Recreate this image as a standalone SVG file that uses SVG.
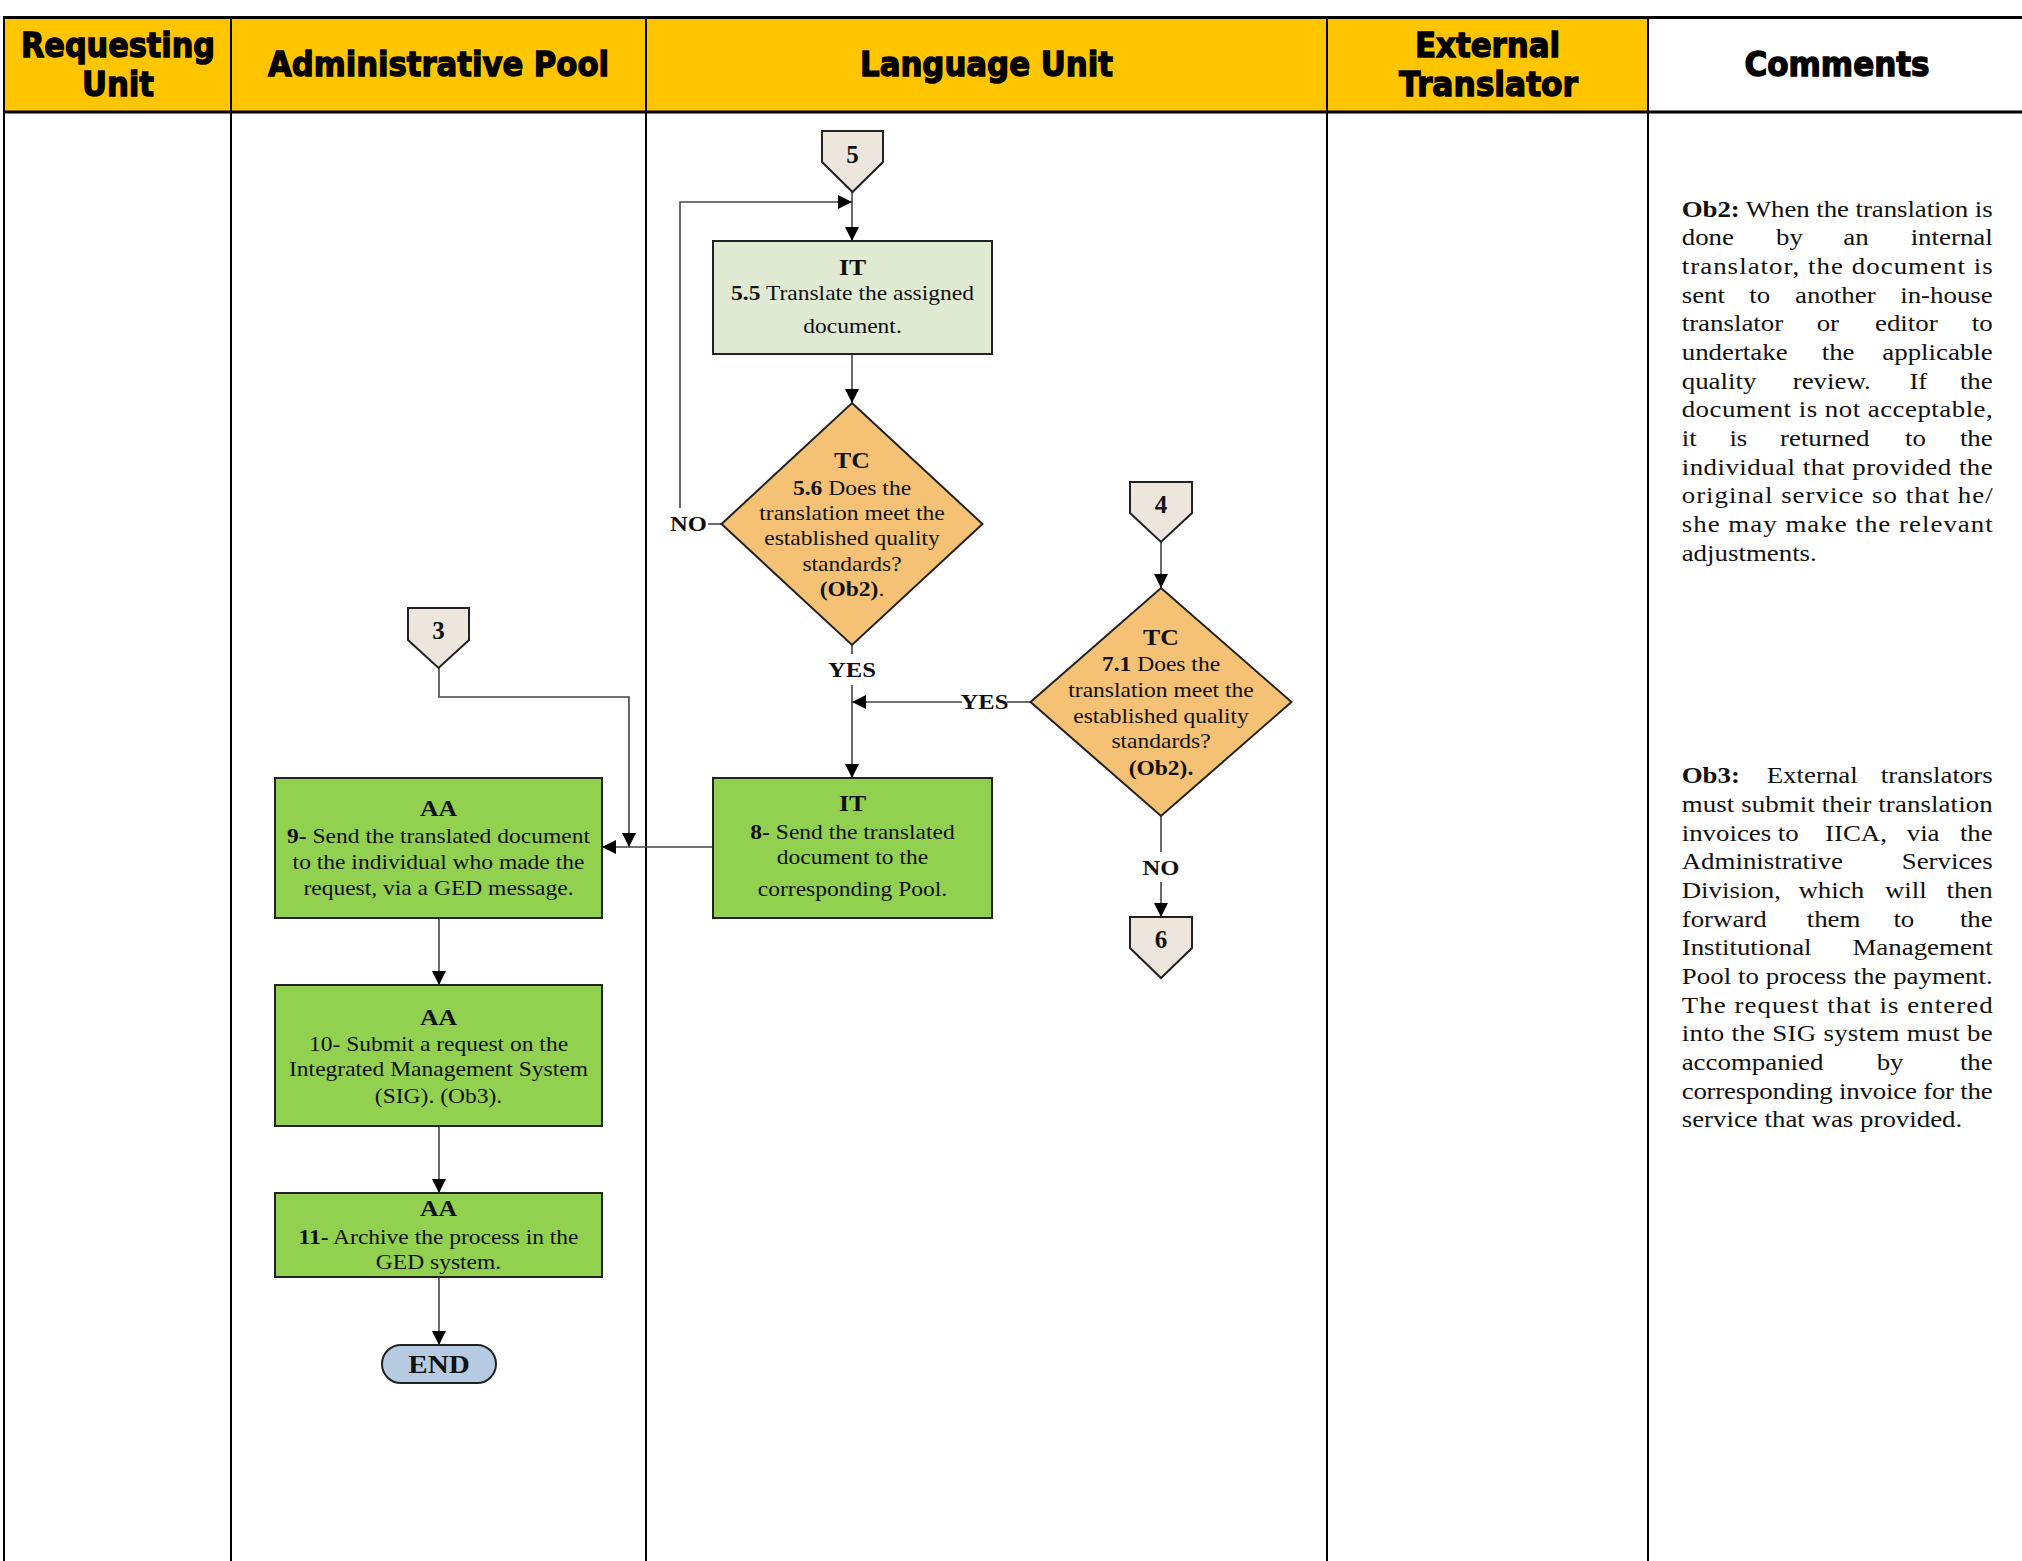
<svg xmlns="http://www.w3.org/2000/svg" width="2022" height="1561" viewBox="0 0 2022 1561">
  <style>
    .hdr { font-family: "DejaVu Sans", "Liberation Sans", sans-serif; font-weight: bold; font-size: 34px; text-anchor: middle; fill: #000; stroke: #000; stroke-width: 1.4; }
    .grid { stroke: #000; stroke-width: 2; fill: none; }
    .rule { stroke: #000; stroke-width: 3; }
    .t { font-family: "Liberation Serif", "Times New Roman", serif; font-size: 21px; text-anchor: middle; fill: #111; }
    .ttl { font-size: 23px; font-weight: bold; }
    .b { font-weight: bold; }
    .lbl { font-family: "Liberation Serif", "Times New Roman", serif; font-size: 22px; font-weight: bold; fill: #111; }
    .num { font-family: "Liberation Serif", "Times New Roman", serif; font-size: 25px; font-weight: bold; text-anchor: middle; fill: #111; }
    .cmt { font-family: "Liberation Serif", "Times New Roman", serif; font-size: 24px; fill: #111; }
    .off { fill: #ECE6DC; stroke: #222; stroke-width: 2; }
    .pale { fill: #E0EAD3; stroke: #222; stroke-width: 2; }
    .act { fill: #92D050; stroke: #222; stroke-width: 2; }
    .dec { fill: #F4C175; stroke: #222; stroke-width: 2; }
    .term { fill: #B6CBE2; stroke: #222; stroke-width: 2; }
    .wire { stroke: #444; stroke-width: 1.6; fill: none; }
    .arr { marker-end: url(#ah); }
  </style>
  <defs>
    <marker id="ah" markerUnits="userSpaceOnUse" markerWidth="15" markerHeight="15" refX="14" refY="7" orient="auto">
      <path d="M0,0 L14,7 L0,14 Z" fill="#000"/>
    </marker>
  </defs>

  <rect width="2022" height="1561" fill="#fff"/>

  <!-- swimlane header -->
  <g id="lanes">
    <rect x="4" y="17" width="1644" height="95" fill="#FFC600"/>
    <line class="rule" x1="3" y1="17.5" x2="2022" y2="17.5"/>
    <line class="rule" x1="3" y1="112" x2="2022" y2="112"/>
    <line class="grid" x1="4" y1="16" x2="4" y2="1561"/>
    <line class="grid" x1="231" y1="17" x2="231" y2="1561"/>
    <line class="grid" x1="646" y1="17" x2="646" y2="1561"/>
    <line class="grid" x1="1327" y1="17" x2="1327" y2="1561"/>
    <line class="grid" x1="1648" y1="17" x2="1648" y2="1561"/>
    <text class="hdr" x="118" y="57" textLength="194" lengthAdjust="spacingAndGlyphs">Requesting</text>
    <text class="hdr" x="118" y="96" textLength="72" lengthAdjust="spacingAndGlyphs">Unit</text>
    <text class="hdr" x="438.5" y="76" textLength="341" lengthAdjust="spacingAndGlyphs">Administrative Pool</text>
    <text class="hdr" x="986.5" y="76" textLength="253" lengthAdjust="spacingAndGlyphs">Language Unit</text>
    <text class="hdr" x="1487.5" y="57" textLength="145" lengthAdjust="spacingAndGlyphs">External</text>
    <text class="hdr" x="1488.5" y="96" textLength="179" lengthAdjust="spacingAndGlyphs">Translator</text>
    <text class="hdr" x="1837" y="76" textLength="185" lengthAdjust="spacingAndGlyphs">Comments</text>
  </g>

  <!-- connectors -->
  <g id="connectors">
    <path class="wire arr" d="M852,192 V241"/>
    <path class="wire arr" d="M852,354 V403"/>
    <path class="wire" d="M722,524 H708"/>
    <path class="wire arr" d="M680,508 V202 H852"/>
    <path class="wire" d="M852,645 V654"/>
    <path class="wire arr" d="M852,685 V778"/>
    <path class="wire arr" d="M1161,542 V588"/>
    <path class="wire" d="M1030,702 H1007"/>
    <path class="wire arr" d="M962,702 H852"/>
    <path class="wire" d="M1161,816 V852"/>
    <path class="wire arr" d="M1161,882 V917"/>
    <path class="wire arr" d="M713,847 H602"/>
    <path class="wire arr" d="M439,668 V697 H629 V847"/>
    <path class="wire arr" d="M439,918 V985"/>
    <path class="wire arr" d="M439,1126 V1193"/>
    <path class="wire arr" d="M439,1277 V1345"/>
    <text class="lbl" x="707" y="531.5" text-anchor="end" transform="translate(707 0) scale(1.12 1) translate(-707 0)">NO</text>
    <g transform="translate(852 0) scale(1.12 1)"><text class="lbl" x="0" y="677" text-anchor="middle">YES</text></g>
    <g transform="translate(984.5 0) scale(1.12 1)"><text class="lbl" x="0" y="709" text-anchor="middle">YES</text></g>
    <g transform="translate(1161 0) scale(1.12 1)"><text class="lbl" x="0" y="875" text-anchor="middle">NO</text></g>
  </g>

  <!-- off-page references -->
  <g id="ref5">
    <path class="off" d="M822,131 H883 V162 L852.5,192 L822,162 Z"/>
    <text class="num" x="852.5" y="162.5">5</text>
  </g>
  <g id="ref4">
    <path class="off" d="M1130,482 H1192 V513 L1161,542 L1130,513 Z"/>
    <text class="num" x="1161" y="512.5">4</text>
  </g>
  <g id="ref3">
    <path class="off" d="M408,608 H469 V640 L438.5,668 L408,640 Z"/>
    <text class="num" x="438.5" y="638.5">3</text>
  </g>
  <g id="ref6">
    <path class="off" d="M1130,917 H1192 V948 L1161,978 L1130,948 Z"/>
    <text class="num" x="1161" y="948">6</text>
  </g>

  <!-- 5.5 -->
  <g id="step5_5">
    <rect class="pale" x="713" y="241" width="279" height="113"/>
    <g class="t" transform="translate(852.5 0) scale(1.12 1)">
      <text class="ttl" x="0" y="275.5">IT</text>
      <text x="0" y="300"><tspan class="b">5.5</tspan> Translate the assigned</text>
      <text x="0" y="333.5">document.</text>
    </g>
  </g>

  <!-- 5.6 -->
  <g id="decision5_6">
    <path class="dec" d="M852,403 L982.5,524 L852,645 L721.5,524 Z"/>
    <g class="t" transform="translate(852 0) scale(1.12 1)">
      <text class="ttl" x="0" y="468">TC</text>
      <text x="0" y="495"><tspan class="b">5.6</tspan> Does the</text>
      <text x="0" y="520">translation meet the</text>
      <text x="0" y="545.5">established quality</text>
      <text x="0" y="571">standards?</text>
      <text x="0" y="596.5"><tspan class="b">(Ob2)</tspan>.</text>
    </g>
  </g>

  <!-- 7.1 -->
  <g id="decision7_1">
    <path class="dec" d="M1161,588 L1291.5,702 L1161,816 L1030.5,702 Z"/>
    <g class="t" transform="translate(1161 0) scale(1.12 1)">
      <text class="ttl" x="0" y="645">TC</text>
      <text x="0" y="671.5"><tspan class="b">7.1</tspan> Does the</text>
      <text x="0" y="697.5">translation meet the</text>
      <text x="0" y="723">established quality</text>
      <text x="0" y="748.5">standards?</text>
      <text class="b" x="0" y="775">(Ob2).</text>
    </g>
  </g>

  <!-- 8 -->
  <g id="step8">
    <rect class="act" x="713" y="778" width="279" height="140"/>
    <g class="t" transform="translate(852.5 0) scale(1.12 1)">
      <text class="ttl" x="0" y="811.5">IT</text>
      <text x="0" y="839"><tspan class="b">8-</tspan> Send the translated</text>
      <text x="0" y="864">document to the</text>
      <text x="0" y="896.5">corresponding Pool.</text>
    </g>
  </g>

  <!-- 9 -->
  <g id="step9">
    <rect class="act" x="275" y="778" width="327" height="140"/>
    <g class="t" transform="translate(438.5 0) scale(1.12 1)">
      <text class="ttl" x="0" y="816.5">AA</text>
      <text x="0" y="843"><tspan class="b">9-</tspan> Send the translated document</text>
      <text x="0" y="869">to the individual who made the</text>
      <text x="0" y="895">request, via a GED message.</text>
    </g>
  </g>

  <!-- 10 -->
  <g id="step10">
    <rect class="act" x="275" y="985" width="327" height="141"/>
    <g class="t" transform="translate(438.5 0) scale(1.12 1)">
      <text class="ttl" x="0" y="1025">AA</text>
      <text x="0" y="1051">10- Submit a request on the</text>
      <text x="0" y="1076.5">Integrated Management System</text>
      <text x="0" y="1103">(SIG). (Ob3).</text>
    </g>
  </g>

  <!-- 11 -->
  <g id="step11">
    <rect class="act" x="275" y="1193" width="327" height="84"/>
    <g class="t" transform="translate(438.5 0) scale(1.12 1)">
      <text class="ttl" x="0" y="1216.5">AA</text>
      <text x="0" y="1244"><tspan class="b">11-</tspan> Archive the process in the</text>
      <text x="0" y="1269">GED system.</text>
    </g>
  </g>

  <!-- end -->
  <g id="end">
    <rect class="term" x="382" y="1345" width="114" height="38" rx="19"/>
    <g transform="translate(439 0) scale(1.12 1)">
      <text class="lbl" x="0" y="1373" text-anchor="middle" style="font-size:26px">END</text>
    </g>
  </g>

  <!-- comment Ob2: full lines are stretched to the column width, loose lines place each word -->
  <g id="note_ob2" class="cmt" transform="translate(1681.7 0) scale(1.12 1)">
    <text x="0" y="216.7" textLength="277.7" lengthAdjust="spacing"><tspan class="b">Ob2:</tspan> When the translation is</text>
    <text y="245.3"><tspan x="0">done</tspan><tspan x="84.2">by</tspan><tspan x="144.3">an</tspan><tspan x="277.7" text-anchor="end">internal</tspan></text>
    <text x="0" y="274" textLength="277.7" lengthAdjust="spacing">translator, the document is</text>
    <text y="302.7"><tspan x="0">sent</tspan><tspan x="60.4">to</tspan><tspan x="101.2">another</tspan><tspan x="277.7" text-anchor="end">in-house</tspan></text>
    <text y="331.4"><tspan x="0">translator</tspan><tspan x="120.5">or</tspan><tspan x="172.6">editor</tspan><tspan x="277.7" text-anchor="end">to</tspan></text>
    <text y="360"><tspan x="0">undertake</tspan><tspan x="125">the</tspan><tspan x="277.7" text-anchor="end">applicable</tspan></text>
    <text y="388.7"><tspan x="0">quality</tspan><tspan x="99.1">review.</tspan><tspan x="203.3">If</tspan><tspan x="277.7" text-anchor="end">the</tspan></text>
    <text x="0" y="417.4" textLength="277.7" lengthAdjust="spacing">document is not acceptable,</text>
    <text y="446"><tspan x="0">it</tspan><tspan x="42.6">is</tspan><tspan x="87.8">returned</tspan><tspan x="199.4">to</tspan><tspan x="277.7" text-anchor="end">the</tspan></text>
    <text x="0" y="474.7" textLength="277.7" lengthAdjust="spacing">individual that provided the</text>
    <text x="0" y="503.4" textLength="277.7" lengthAdjust="spacing">original service so that he/</text>
    <text x="0" y="532" textLength="277.7" lengthAdjust="spacing">she may make the relevant</text>
    <text x="0" y="560.7">adjustments.</text>
  </g>

  <!-- comment Ob3 -->
  <g id="note_ob3" class="cmt" transform="translate(1681.7 0) scale(1.12 1)">
    <text y="783.3"><tspan x="0" class="b">Ob3:</tspan><tspan x="75.9">External</tspan><tspan x="277.7" text-anchor="end">translators</tspan></text>
    <text x="0" y="812" textLength="277.7" lengthAdjust="spacing">must submit their translation</text>
    <text y="840.7"><tspan x="0">invoices</tspan><tspan x="85.7">to</tspan><tspan x="128">IICA,</tspan><tspan x="200.9">via</tspan><tspan x="277.7" text-anchor="end">the</tspan></text>
    <text y="869.3"><tspan x="0">Administrative</tspan><tspan x="277.7" text-anchor="end">Services</tspan></text>
    <text y="898"><tspan x="0">Division,</tspan><tspan x="104.2">which</tspan><tspan x="181.5">will</tspan><tspan x="277.7" text-anchor="end">then</tspan></text>
    <text y="926.7"><tspan x="0">forward</tspan><tspan x="111.6">them</tspan><tspan x="189">to</tspan><tspan x="277.7" text-anchor="end">the</tspan></text>
    <text y="955.4"><tspan x="0">Institutional</tspan><tspan x="277.7" text-anchor="end">Management</tspan></text>
    <text x="0" y="984" textLength="277.7" lengthAdjust="spacing">Pool to process the payment.</text>
    <text x="0" y="1012.7" textLength="277.7" lengthAdjust="spacing">The request that is entered</text>
    <text x="0" y="1041.4" textLength="277.7" lengthAdjust="spacing">into the SIG system must be</text>
    <text y="1070"><tspan x="0">accompanied</tspan><tspan x="174.1">by</tspan><tspan x="277.7" text-anchor="end">the</tspan></text>
    <text x="0" y="1098.7" textLength="277.7" lengthAdjust="spacing">corresponding invoice for the</text>
    <text x="0" y="1127.4">service that was provided.</text>
  </g>
</svg>
